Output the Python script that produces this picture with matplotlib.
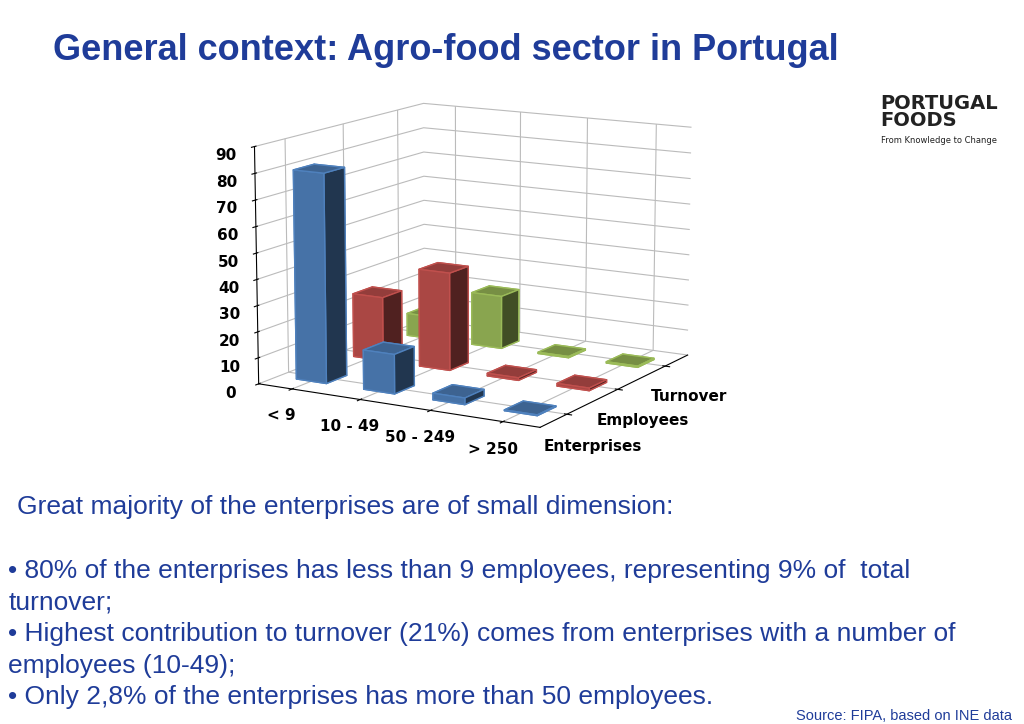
import matplotlib
matplotlib.use("Agg")
import matplotlib.pyplot as plt
import numpy as np

categories = ["< 9", "10 - 49", "50 - 249", "> 250"]
series = ["Enterprises", "Employees", "Turnover"]
enterprises = [80, 15, 2.5, 0.3]
employees = [25, 38, 1.0, 1.0]
turnover = [9, 21, 0.5, 0.5]
colors = ["#4F81BD", "#C0504D", "#9BBB59"]

fig = plt.figure(figsize=(10.24, 7.24), dpi=100)
fig.text(0.052, 0.93, "General context: Agro-food sector in Portugal", fontsize=26,
         fontweight="bold", color="#1F3C99", ha="left", va="center", family="Liberation Sans")

ax = fig.add_axes([0.10, 0.30, 0.72, 0.68], projection="3d")
data = [enterprises, employees, turnover]
dx, dy = 0.45, 0.35
for si, vals in enumerate(data):
    xs = np.arange(len(categories))
    ax.bar3d(xs - dx / 2, np.full(len(xs), si) - dy / 2, np.zeros(len(xs)), dx, dy, vals,
             color=colors[si], shade=True, edgecolor=colors[si])
ax.set_xticks(range(len(categories)))
ax.set_xticklabels(categories, fontsize=11, fontweight="bold")
ax.set_yticks(range(len(series)))
ax.set_yticklabels(series, fontsize=11, fontweight="bold")
ax.set_zticks(range(0, 91, 10))
ax.set_zticklabels([str(v) for v in range(0, 91, 10)], fontsize=11, fontweight="bold")
ax.set_zlim(0, 90)
ax.set_xlim(-0.5, 3.5)
ax.set_ylim(-0.5, 2.5)
ax.view_init(elev=12, azim=-60)
ax.zaxis.set_ticks_position("lower")
ax.zaxis.set_label_position("lower")
for a in (ax.xaxis, ax.yaxis, ax.zaxis):
    a.set_pane_color((1, 1, 1, 0))
    a._axinfo["grid"]["color"] = "#BBBBBB"
    a._axinfo["grid"]["linewidth"] = 0.8
ax.yaxis.set_tick_params(pad=8)

fig.text(0.86, 0.845, "PORTUGAL\nFOODS", fontsize=14, fontweight="bold", color="#222222",
         ha="left", va="center", linespacing=0.9)
fig.text(0.86, 0.803, "From Knowledge to Change", fontsize=6, color="#222222", ha="left")

tc = "#1F3C99"
fig.text(0.017, 0.29, "Great majority of the enterprises are of small dimension:", fontsize=19,
         color=tc, family="Liberation Sans")
body = ("\u2022 80% of the enterprises has less than 9 employees, representing 9% of  total\n"
        "turnover;\n"
        "\u2022 Highest contribution to turnover (21%) comes from enterprises with a number of\n"
        "employees (10-49);\n"
        "\u2022 Only 2,8% of the enterprises has more than 50 employees.")
fig.text(0.008, 0.228, body, fontsize=19, color=tc, va="top", linespacing=1.4,
         family="Liberation Sans")
fig.text(0.988, 0.005, "Source: FIPA, based on INE data", fontsize=10.5, color=tc, ha="right",
         family="Liberation Sans")
fig.savefig("out.png", dpi=100)
